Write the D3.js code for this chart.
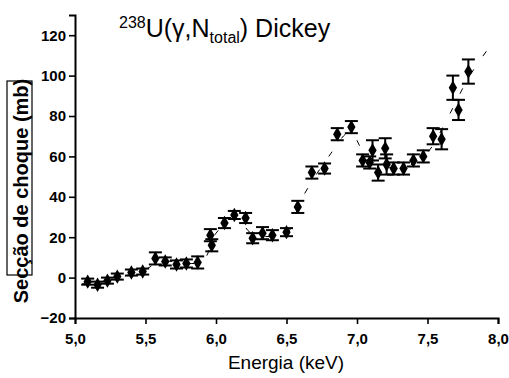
<!DOCTYPE html>
<html>
<head>
<meta charset="utf-8">
<script src="https://cdn.jsdelivr.net/npm/d3@7"></script>
<style>
  body { margin: 0; background: #fff; }
  svg { display: block; font-family: "Liberation Sans", Arial, sans-serif; }
</style>
</head>
<body>
<svg id="chart" width="509" height="378"></svg>
<script>
// data: energy (keV), cross section (mb), error (mb)
const energy = [5.09, 5.16, 5.23, 5.30, 5.40, 5.48, 5.57, 5.64, 5.72, 5.79, 5.87, 5.96, 5.97,
    6.06, 6.13, 6.21, 6.26, 6.33, 6.40, 6.50, 6.58, 6.68, 6.77, 6.86, 6.96,
    7.04, 7.09, 7.11, 7.15, 7.20, 7.21, 7.26, 7.33, 7.40, 7.47, 7.54, 7.60, 7.68, 7.72, 7.79];
const sigma = [-2, -3.5, -1.5, 0.5, 2.5, 3, 9.5, 8, 6.5, 7, 7.5, 21, 16,
    27, 31, 29.5, 19.5, 22, 21, 22.5, 35, 52, 54, 71, 74.5,
    58, 57, 63, 52, 64, 56, 54, 54, 58, 60, 70, 68.5, 94, 83, 102];
const sigmaErr = [1.5, 1.5, 1.5, 1.5, 1.5, 1.5, 3, 2, 2, 2, 3, 3, 3,
    2.5, 2, 2.5, 2.5, 3, 2.5, 2, 3, 3, 2.5, 3, 3,
    3, 3, 5, 4, 5, 5, 3, 3, 3, 3, 4, 5, 6, 5, 6];

// sparse dashed trend curve
const fitE = [5.05, 5.3, 5.5, 5.6, 5.9, 6.0, 6.15, 6.25, 6.5, 6.6, 6.8, 6.95, 7.05, 7.2, 7.35, 7.5, 7.65, 7.8, 7.98];
const fitV = [-3, 0, 4, 8, 8, 22, 30, 22, 22, 38, 60, 72, 62, 55, 55, 62, 80, 100, 118];

const xTicks = [5.0, 5.5, 6.0, 6.5, 7.0, 7.5, 8.0];
const yTicks = [-20, 0, 20, 40, 60, 80, 100, 120];

const width = 509, height = 378;
const margin = { top: 15, right: 11, bottom: 60, left: 75 };
const svg = d3.select("#chart");

const x = d3.scaleLinear().domain([5, 8]).range([margin.left, width - margin.right]);
const y = d3.scaleLinear().domain([-20, 130]).range([height - margin.bottom, margin.top]);

const fmt = d => d3.format(".1f")(d).replace(".", ",");

// x axis
const gx = svg.append("g")
    .attr("transform", `translate(0,${height - margin.bottom})`);
gx.call(d3.axisBottom(x).tickValues(d3.range(5, 8.01, 0.25)).tickSize(4).tickFormat(""));
gx.call(d3.axisBottom(x).tickValues(xTicks).tickSize(6).tickFormat(fmt));

// y axis
const gy = svg.append("g")
    .attr("transform", `translate(${margin.left},0)`);
gy.call(d3.axisLeft(y).tickValues(d3.range(-20, 131, 10)).tickSize(4).tickFormat(""));
gy.call(d3.axisLeft(y).tickValues(yTicks).tickSize(6));

svg.selectAll(".domain").attr("stroke", "#000").attr("stroke-width", 2);
svg.selectAll(".tick line").attr("stroke", "#000").attr("stroke-width", 1.6);
svg.selectAll(".tick text")
    .attr("fill", "#000")
    .style("font-size", "15px")
    .style("font-weight", "bold");
gx.selectAll(".tick text").attr("dy", "1.15em");

// trend line
svg.append("path")
    .datum(d3.zip(fitE, fitV))
    .attr("fill", "none")
    .attr("stroke", "#000")
    .attr("stroke-width", 1)
    .attr("stroke-dasharray", "6,16")
    .attr("d", d3.line().curve(d3.curveCatmullRom).x(d => x(d[0])).y(d => y(d[1])));

const pts = d3.range(energy.length).map(i => ({ e: energy[i], v: sigma[i], err: sigmaErr[i] }));

// error bars
const eb = svg.append("g").attr("stroke", "#000").attr("stroke-width", 2);
eb.selectAll(".stem").data(pts).join("line")
    .attr("x1", d => x(d.e)).attr("x2", d => x(d.e))
    .attr("y1", d => y(d.v - d.err)).attr("y2", d => y(d.v + d.err));
eb.selectAll(".capTop").data(pts).join("line")
    .attr("x1", d => x(d.e) - 6.5).attr("x2", d => x(d.e) + 6.5)
    .attr("y1", d => y(d.v + d.err)).attr("y2", d => y(d.v + d.err));
eb.selectAll(".capBot").data(pts).join("line")
    .attr("x1", d => x(d.e) - 6.5).attr("x2", d => x(d.e) + 6.5)
    .attr("y1", d => y(d.v - d.err)).attr("y2", d => y(d.v - d.err));

// markers
svg.append("g").selectAll("path").data(pts).join("path")
    .attr("transform", d => `translate(${x(d.e)},${y(d.v)})`)
    .attr("d", d3.symbol(d3.symbolDiamond, 60))
    .attr("fill", "#000");

// title
const title = svg.append("text")
    .attr("x", 119).attr("y", 37)
    .style("font-size", "25px")
    .attr("fill", "#000");
title.append("tspan").text("238").style("font-size", "16px").attr("dy", "-9");
title.append("tspan").text("U(γ,N").attr("dy", "9");
title.append("tspan").text("total").style("font-size", "16px").attr("dy", "6");
title.append("tspan").text(") Dickey").attr("dy", "-6");

// x axis title
svg.append("text")
    .attr("x", 286).attr("y", 369)
    .attr("text-anchor", "middle")
    .style("font-size", "19px")
    .attr("fill", "#000")
    .text("Energia (keV)");

// y axis title, boxed as on the scan
svg.append("rect")
    .attr("x", 7).attr("y", 81).attr("width", 25).attr("height", 194)
    .attr("fill", "none").attr("stroke", "#000").attr("stroke-width", 1.2);
svg.append("text")
    .attr("transform", "translate(28,191) rotate(-90)")
    .attr("text-anchor", "middle")
    .style("font-size", "20px")
    .style("font-weight", "bold")
    .attr("fill", "#000")
    .text("Secção de choque (mb)");
</script>
</body>
</html>
